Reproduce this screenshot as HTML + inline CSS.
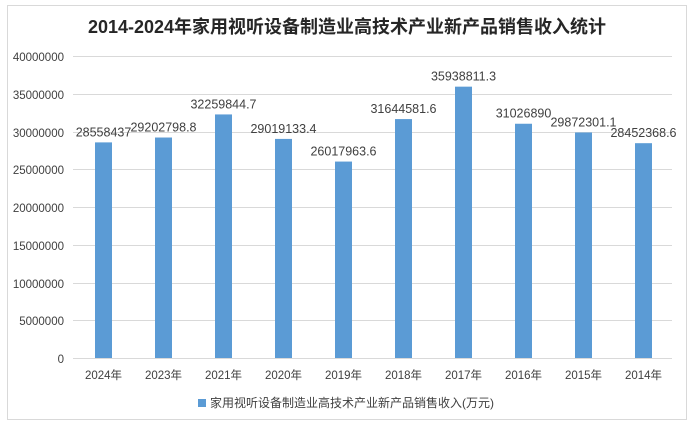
<!DOCTYPE html>
<html><head><meta charset="utf-8"><style>
body{margin:0;background:#fff;}
svg text{font-family:"Liberation Sans","Noto Sans CJK SC",sans-serif;fill:#404040;}
</style></head><body>
<svg width="694" height="428" xmlns="http://www.w3.org/2000/svg">
<rect x="7.5" y="5.5" width="679" height="414" fill="#fff" stroke="#d9d9d9"/>
<text x="347" y="33" text-anchor="middle" font-size="18" font-weight="bold" fill="#262626" style="fill:#262626">2014-2024年家用视听设备制造业高技术产业新产品销售收入统计</text>
<g stroke="#d9d9d9" stroke-width="1">
<line x1="73" x2="672" y1="56.5" y2="56.5"/><line x1="73" x2="672" y1="94.5" y2="94.5"/>
<line x1="73" x2="672" y1="132.5" y2="132.5"/><line x1="73" x2="672" y1="169.5" y2="169.5"/>
<line x1="73" x2="672" y1="207.5" y2="207.5"/><line x1="73" x2="672" y1="245.5" y2="245.5"/>
<line x1="73" x2="672" y1="283.5" y2="283.5"/><line x1="73" x2="672" y1="320.5" y2="320.5"/>
<line x1="73" x2="672" y1="358.5" y2="358.5"/>
</g>
<g font-size="11.5" text-anchor="end">
<text x="64" y="61">40000000</text><text x="64" y="99">35000000</text><text x="64" y="137">30000000</text>
<text x="64" y="174">25000000</text><text x="64" y="212">20000000</text><text x="64" y="250">15000000</text>
<text x="64" y="288">10000000</text><text x="64" y="325">5000000</text><text x="64" y="363">0</text>
</g>
<g fill="#5b9bd5" id="bars"></g>
<g id="lbl" font-size="12.5" text-anchor="middle"></g>
<rect x="198" y="399" width="8" height="8" fill="#5b9bd5"/>
<text x="210" y="407" font-size="12">家用视听设备制造业高技术产业新产品销售收入(万元)</text>
<script>
var d=[["2024年",28558437,"28558437"],["2023年",29202798.8,"29202798.8"],["2021年",32259844.7,"32259844.7"],["2020年",29019133.4,"29019133.4"],["2019年",26017963.6,"26017963.6"],["2018年",31644581.6,"31644581.6"],["2017年",35938811.3,"35938811.3"],["2016年",31026890,"31026890"],["2015年",29872301.1,"29872301.1"],["2014年",28452368.6,"28452368.6"]];
var b=document.getElementById("bars"),l=document.getElementById("lbl"),ns="http://www.w3.org/2000/svg";
d.forEach(function(e,i){var cx=103.5+60*i,h=e[1]*302/4e7,y=358-h;
var r=document.createElementNS(ns,"rect");r.setAttribute("x",cx-8.5);r.setAttribute("y",y);r.setAttribute("width",17);r.setAttribute("height",h);r.setAttribute("fill","#5b9bd5");b.appendChild(r);
var t=document.createElementNS(ns,"text");t.setAttribute("x",cx);t.setAttribute("y",y-6);t.textContent=e[2];l.appendChild(t);
var t2=document.createElementNS(ns,"text");t2.setAttribute("x",cx);t2.setAttribute("y",379);t2.setAttribute("font-size","11.5");t2.textContent=e[0];l.appendChild(t2);});
</script>
</svg>
</body></html>
